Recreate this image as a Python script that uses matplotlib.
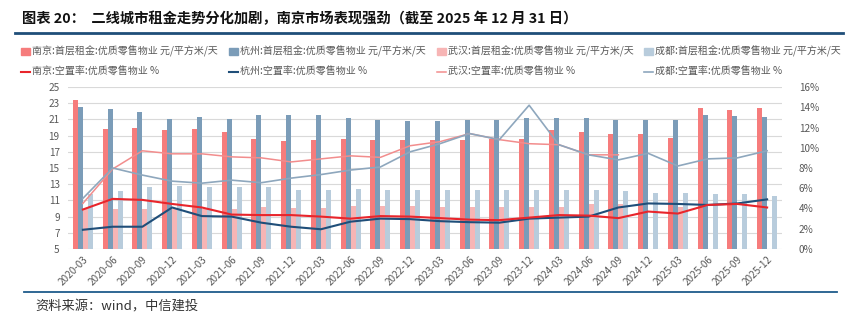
import matplotlib
matplotlib.use("Agg")
import matplotlib.pyplot as plt
import numpy as np
from matplotlib.patches import Patch
from matplotlib.lines import Line2D
from matplotlib.ticker import FuncFormatter

plt.rcParams['font.family'] = ['Noto Sans CJK SC', 'DejaVu Sans']

nan = np.nan

# quarterly dates
dates = ["2020-03", "2020-06", "2020-09", "2020-12", "2021-03", "2021-06",
         "2021-09", "2021-12", "2022-03", "2022-06", "2022-09", "2022-12",
         "2023-03", "2023-06", "2023-09", "2023-12", "2024-03", "2024-06",
         "2024-09", "2024-12", "2025-03", "2025-06", "2025-09", "2025-12"]

# ground floor rent, prime retail (yuan / m2 / day)
nj_rent = [23.4, 19.8, 20.0, 19.7, 19.8, 19.5, 18.6, 18.3, 18.5, 18.6, 18.4, 18.4,
           18.4, 18.5, 18.6, 18.6, 19.7, 19.5, 19.2, 19.2, 18.7, 22.4, 22.2, 22.4]
hz_rent = [22.5, 22.3, 21.9, 21.1, 21.3, 21.0, 21.5, 21.6, 21.6, 21.2, 20.9, 20.8,
           20.8, 20.9, 20.9, 21.2, 21.2, 21.2, 20.9, 20.9, 20.9, 21.5, 21.4, 21.35]
wh_rent = [9.9, 10.0, 9.9, 10.0, 10.0, 10.0, 10.2, 10.1, 10.1, 10.35, 10.35, 10.25,
           10.2, 10.2, 10.2, 10.2, 10.2, 10.55, 10.6, nan, 10.2, nan, nan, nan]
cd_rent = [11.8, 12.1, 12.7, 12.8, 12.6, 12.6, 12.6, 12.3, 12.3, 12.35, 12.3, 12.3,
           12.3, 12.3, 12.3, 12.3, 12.3, 12.3, 12.2, 11.9, 11.9, 11.85, 11.8, 11.55]

# vacancy rate, prime retail (%)
nj_vac = [3.9, 4.95, 4.85, 4.45, 4.1, 3.4, 3.35, 3.35, 3.2, 3.0, 3.25, 3.2,
          3.05, 2.9, 2.85, 3.1, 3.35, 3.3, 3.05, 3.7, 3.5, 4.35, 4.45, 4.1]
hz_vac = [1.9, 2.2, 2.2, 4.1, 3.25, 3.2, 2.6, 2.2, 1.95, 2.7, 3.0, 2.95,
          2.75, 2.65, 2.6, 3.0, 3.1, 3.2, 4.1, 4.5, 4.45, 4.35, 4.5, 4.9]
wh_vac = [4.5, 7.9, 9.7, 9.4, 9.4, 9.1, 9.0, 8.6, 8.9, 9.2, 9.05, 10.2,
          10.6, 11.4, 10.8, 10.4, 10.3, 9.3, 9.3, nan, nan, nan, nan, nan]
cd_vac = [5.0, 8.0, 7.3, 6.7, 6.5, 6.8, 6.55, 7.0, 7.35, 7.8, 8.1, 9.6,
          10.4, 11.4, 10.8, 14.2, 10.3, 9.3, 8.8, 9.45, 8.2, 8.9, 9.0, 9.7]

c_nj_bar, c_hz_bar, c_wh_bar, c_cd_bar = "#F67C7C", "#7B9CB8", "#F7B5B5", "#B8CCDC"
c_nj_line, c_hz_line, c_wh_line, c_cd_line = "#E8252B", "#1F4E79", "#F28D8D", "#8EA7BD"
grey = "#595959"

fig = plt.figure(figsize=(8.58, 3.33), dpi=100)
ax = fig.add_axes([68 / 858, 84 / 333, 714 / 858, 162 / 333])
ax2 = ax.twinx()

x = np.arange(len(dates))
w = 0.17
ax.bar(x - 1.5 * w, nj_rent, w, color=c_nj_bar)
ax.bar(x - 0.5 * w, hz_rent, w, color=c_hz_bar)
ax.bar(x + 0.5 * w, wh_rent, w, color=c_wh_bar)
ax.bar(x + 1.5 * w, cd_rent, w, color=c_cd_bar)

ax2.plot(x, wh_vac, color=c_wh_line, lw=1.1)
ax2.plot(x, cd_vac, color=c_cd_line, lw=1.2)
ax2.plot(x, hz_vac, color=c_hz_line, lw=1.5)
ax2.plot(x, nj_vac, color=c_nj_line, lw=1.5)

ax.set_xlim(-0.5, len(dates) - 0.5)
ax.set_ylim(5, 25)
ax.set_yticks(range(5, 26, 2))
ax2.set_ylim(0, 16)
ax2.set_yticks(range(0, 17, 2))
ax2.yaxis.set_major_formatter(FuncFormatter(lambda v, p: f"{int(v)}%"))

ax.set_xticks(x)
ax.set_xticklabels(dates, rotation=45, ha="right", rotation_mode="anchor")
ax.yaxis.grid(True, color="#D9D9D9", lw=0.8)
ax.set_axisbelow(True)
for a in (ax, ax2):
    for s in a.spines.values():
        s.set_visible(False)
    a.tick_params(length=0, labelsize=7.2, colors=grey)
ax.tick_params(axis="x", pad=4)
ax.tick_params(axis="y", pad=6)
ax2.tick_params(axis="y", pad=12)

# legend
handles = [
    Patch(color=c_nj_bar), Line2D([], [], color=c_nj_line, lw=1.5),
    Patch(color=c_hz_bar), Line2D([], [], color=c_hz_line, lw=1.5),
    Patch(color=c_wh_bar), Line2D([], [], color=c_wh_line, lw=1.1),
    Patch(color=c_cd_bar), Line2D([], [], color=c_cd_line, lw=1.2),
]
labels = [
    "南京:首层租金:优质零售物业 元/平方米/天", "南京:空置率:优质零售物业 %",
    "杭州:首层租金:优质零售物业 元/平方米/天", "杭州:空置率:优质零售物业 %",
    "武汉:首层租金:优质零售物业 元/平方米/天", "武汉:空置率:优质零售物业 %",
    "成都:首层租金:优质零售物业 元/平方米/天", "成都:空置率:优质零售物业 %",
]
fig.legend(handles, labels, ncol=4, loc="upper left",
           bbox_to_anchor=(21 / 858, 1 - 46 / 333), frameon=False,
           fontsize=7.2, labelcolor=grey, handlelength=0.9, handleheight=0.6,
           handletextpad=0.2, columnspacing=1.1, labelspacing=0.95,
           borderpad=0, borderaxespad=0)

# title, rules and source
fig.text(22 / 858, 1 - 19 / 333, "图表 20：  二线城市租金走势分化加剧，南京市场表现强劲（截至 2025 年 12 月 31 日）",
         fontsize=10.3, fontweight="bold", color="#111111", va="center", ha="left")
fig.add_artist(Line2D([15 / 858, 843 / 858], [1 - 33 / 333] * 2, color="#1F4E79", lw=2))
fig.add_artist(Line2D([24 / 858, 837 / 858], [1 - 292 / 333] * 2, color="#1F5C8B", lw=1.3))
fig.text(35 / 858, 1 - 307 / 333, "资料来源：wind，中信建投", fontsize=9.5,
         style="italic", color="#333333", va="center", ha="left")

fig.savefig("out.png", dpi=100)
